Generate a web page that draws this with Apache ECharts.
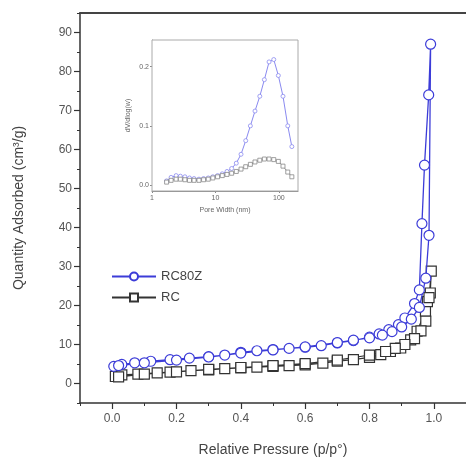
<!DOCTYPE html>
<html><head><meta charset="utf-8">
<script src="https://cdn.jsdelivr.net/npm/echarts@6/dist/echarts.min.js"></script>
<style>html,body{margin:0;padding:0;background:#fff}#c{width:466px;height:462px}</style>
</head><body><div id="c"></div>
<script>
// Main isotherm: RC80Z (adsorption then desorption)
const rc80zP = [0.005,0.03,0.07,0.12,0.18,0.24,0.30,0.35,0.40,0.45,0.50,0.55,0.60,0.65,0.70,0.75,0.80,0.83,0.86,0.89,0.91,0.94,0.955,0.963,0.971,0.984,0.99,0.985,0.975,0.955,0.93,0.90,0.87,0.84,0.80,0.75,0.70,0.60,0.50,0.40,0.30,0.20,0.10,0.02];
const rc80zQ = [4.4,4.9,5.3,5.7,6.1,6.5,6.9,7.3,8.0,8.4,8.7,9.0,9.3,9.7,10.4,11.0,11.9,12.7,13.8,15.1,16.8,20.5,24.0,41.0,56.0,74.0,87.0,38.0,27.0,19.5,16.5,14.5,13.3,12.4,11.7,11.1,10.5,9.4,8.6,7.8,6.8,6.0,5.3,4.6];
// Main isotherm: RC
const rcP = [0.01,0.03,0.08,0.14,0.18,0.245,0.30,0.35,0.40,0.45,0.50,0.55,0.60,0.655,0.70,0.75,0.80,0.835,0.865,0.897,0.928,0.948,0.974,0.98,0.989,0.992,0.985,0.975,0.96,0.94,0.91,0.88,0.85,0.80,0.70,0.60,0.50,0.40,0.30,0.20,0.10,0.02];
const rcQ = [1.8,2.2,2.4,2.7,2.9,3.3,3.5,3.8,4.0,4.2,4.4,4.6,4.8,5.2,5.7,6.1,6.7,7.4,8.2,9.1,11.2,13.4,18.5,21.0,23.2,28.8,22.0,16.0,13.5,11.5,10.0,9.0,8.2,7.3,6.0,5.1,4.6,4.1,3.6,3.0,2.4,1.7];
// Inset pore size distribution
const psdW = [1.7,2.0,2.4,2.8,3.3,3.9,4.6,5.5,6.5,7.7,9.1,10.8,12.8,15.2,18,21.3,25.3,30,35.5,42,50,59,70,83,98,116,138,160];
const psdRC80Z = [0.007,0.013,0.016,0.015,0.014,0.012,0.011,0.010,0.011,0.012,0.014,0.016,0.019,0.023,0.028,0.037,0.052,0.075,0.100,0.125,0.150,0.178,0.208,0.212,0.185,0.150,0.100,0.065];
const psdRC = [0.005,0.008,0.010,0.010,0.009,0.008,0.008,0.008,0.009,0.010,0.012,0.014,0.016,0.018,0.020,0.023,0.027,0.031,0.035,0.039,0.042,0.044,0.044,0.043,0.040,0.032,0.022,0.014];
// Tick labels
const xTicks = [0,0.2,0.4,0.6,0.8,1.0];
const yTicks = [0,10,20,30,40,50,60,70,80,90];
const insetXTicks = [1,10,100];
const insetYTicks = [0,0.1,0.2];

const zip = (a,b)=>a.map((v,i)=>[v,b[i]]);
const blue = '#3c3cd8', dark = '#333333';
const font = 'Liberation Sans, Arial, sans-serif';
const axisCol = '#333';
const chart = echarts.init(document.getElementById('c'));
chart.setOption({
  animation:false,
  backgroundColor:'#fff',
  grid:[
    {left:80,right:-3,top:13,bottom:59,show:false},
    {left:152,right:168,top:40,bottom:271,show:true,borderColor:'#aaa',borderWidth:1,backgroundColor:'#fff',z:5}
  ],
  legend:{
    left:106,top:265,orient:'vertical',itemGap:8,itemWidth:44,itemHeight:10,
    textStyle:{fontFamily:font,fontSize:13,color:'#444'},
    data:['RC80Z','RC']
  },
  xAxis:[
    {gridIndex:0,type:'value',min:-0.1,max:1.1,
     axisLine:{onZero:false,lineStyle:{color:axisCol,width:1.5}},
     axisTick:{show:true,length:6,customValues:xTicks,lineStyle:{color:axisCol,width:1.2}},
     splitLine:{show:false},
     axisLabel:{fontFamily:font,fontSize:12,color:'#555',margin:10,customValues:xTicks,
       formatter:v=>v.toFixed(1)},
     name:'Relative Pressure (p/p°)',nameLocation:'middle',nameGap:40,
     nameTextStyle:{fontFamily:font,fontSize:14,color:'#444'}},
    {gridIndex:1,type:'log',logBase:10,min:1,max:200,
     axisLine:{onZero:false,lineStyle:{color:'#888'}},
     axisTick:{show:true,length:2,customValues:insetXTicks,lineStyle:{color:'#888'}},
     splitLine:{show:false},
     axisLabel:{fontFamily:font,fontSize:7,color:'#666',margin:4,customValues:insetXTicks},
     name:'Pore Width (nm)',nameLocation:'middle',nameGap:16,
     nameTextStyle:{fontFamily:font,fontSize:7,color:'#666'}},
    // minor ticks on main x axis
    {gridIndex:0,type:'value',min:-0.1,max:1.1,interval:0.1,position:'bottom',
     axisLine:{show:false,onZero:false},axisTick:{show:true,length:3,lineStyle:{color:axisCol}},
     axisLabel:{show:false},splitLine:{show:false}},
    // top frame line
    {gridIndex:0,type:'value',min:-0.1,max:1.1,position:'top',
     axisLine:{show:true,onZero:false,lineStyle:{color:'#444',width:2}},
     axisTick:{show:false},axisLabel:{show:false},splitLine:{show:false}}
  ],
  yAxis:[
    {gridIndex:0,type:'value',min:-5,max:95,
     axisLine:{show:true,onZero:false,lineStyle:{color:axisCol,width:1.5}},
     axisTick:{show:true,length:6,customValues:yTicks,lineStyle:{color:axisCol,width:1.2}},
     splitLine:{show:false},
     axisLabel:{fontFamily:font,fontSize:12,color:'#555',margin:8,customValues:yTicks},
     name:'Quantity Adsorbed (cm³/g)',nameLocation:'middle',nameGap:54,
     nameTextStyle:{fontFamily:font,fontSize:14,color:'#444'}},
    {gridIndex:1,type:'value',min:-0.01,max:0.245,
     axisLine:{show:true,onZero:false,lineStyle:{color:'#888'}},
     axisTick:{show:true,length:2,customValues:insetYTicks,lineStyle:{color:'#888'}},
     splitLine:{show:false},
     axisLabel:{fontFamily:font,fontSize:7,color:'#666',margin:3,customValues:insetYTicks,
       formatter:v=>v.toFixed(1)},
     name:'dV/dlog(w)',nameLocation:'middle',nameGap:20,
     nameTextStyle:{fontFamily:font,fontSize:7,color:'#666'}},
    // minor ticks on main y axis
    {gridIndex:0,type:'value',min:-5,max:95,interval:5,position:'left',
     axisLine:{show:false,onZero:false},axisTick:{show:true,length:3,lineStyle:{color:axisCol}},
     axisLabel:{show:false},splitLine:{show:false}}
  ],
  series:[
    {name:'RC80Z',type:'line',xAxisIndex:0,yAxisIndex:0,data:zip(rc80zP,rc80zQ),
     symbol:'circle',symbolSize:10,lineStyle:{color:blue,width:1.3},
     itemStyle:{color:'#fff',borderColor:blue,borderWidth:1.2},z:3},
    {name:'RC',type:'line',xAxisIndex:0,yAxisIndex:0,data:zip(rcP,rcQ),
     symbol:'rect',symbolSize:10,lineStyle:{color:dark,width:1.2},
     itemStyle:{color:'#fff',borderColor:dark,borderWidth:1.2},z:2},
    {name:'RC80Z inset',type:'line',xAxisIndex:1,yAxisIndex:1,data:zip(psdW,psdRC80Z),
     symbol:'circle',symbolSize:4,lineStyle:{color:'#8a8af0',width:1},
     itemStyle:{color:'#fff',borderColor:'#8a8af0',borderWidth:0.8},z:6},
    {name:'RC inset',type:'line',xAxisIndex:1,yAxisIndex:1,data:zip(psdW,psdRC),
     symbol:'rect',symbolSize:4,lineStyle:{color:'#888',width:1},
     itemStyle:{color:'#fff',borderColor:'#888',borderWidth:0.8},z:6}
  ]
});
</script></body></html>
